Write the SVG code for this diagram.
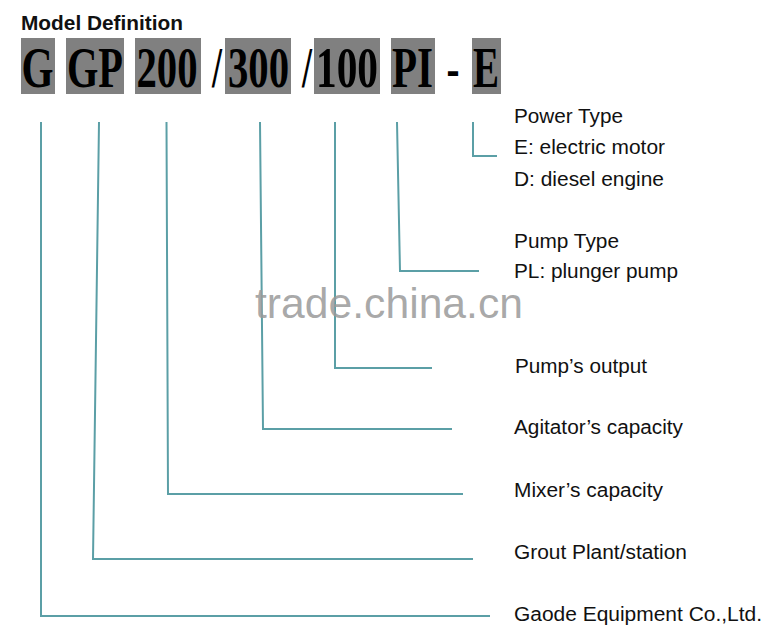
<svg xmlns="http://www.w3.org/2000/svg" width="777" height="639" viewBox="0 0 777 639">
<style>
.box{fill:#808080}
.code{font-family:"Liberation Serif","Times New Roman",serif;font-weight:bold;font-size:56px;fill:#000}
.lbl{font-family:"Liberation Sans",Arial,sans-serif;font-size:19.5px;fill:#111}
.title{font-family:"Liberation Sans",Arial,sans-serif;font-weight:bold;font-size:20px;fill:#111}
.wm{font-family:"Liberation Sans",Arial,sans-serif;font-size:42px;fill:#9a9a9a;fill-opacity:0.85}
.conn{fill:none;stroke:#5b9fa6;stroke-width:2}
</style>
<rect width="777" height="639" fill="#fff"/>
<g id="title"><text class="title" x="21" y="30" textLength="162" lengthAdjust="spacingAndGlyphs">Model Definition</text></g>
<g id="code">
<rect class="box" x="21" y="38" width="34" height="56"/>
<rect class="box" x="66" y="38" width="58" height="56"/>
<rect class="box" x="135" y="38" width="66" height="56"/>
<rect class="box" x="225" y="38" width="66" height="56"/>
<rect class="box" x="314" y="38" width="66" height="56"/>
<rect class="box" x="391" y="38" width="44" height="56"/>
<rect class="box" x="472" y="38" width="29" height="56"/>
<text class="code" x="21.5" y="87" textLength="32" lengthAdjust="spacingAndGlyphs">G</text>
<text class="code" x="67" y="87" textLength="56" lengthAdjust="spacingAndGlyphs">GP</text>
<text class="code" x="136.5" y="87" textLength="61" lengthAdjust="spacingAndGlyphs">200</text>
<text class="code" x="212" y="87" textLength="10" lengthAdjust="spacingAndGlyphs">/</text>
<text class="code" x="228" y="87" textLength="61" lengthAdjust="spacingAndGlyphs">300</text>
<text class="code" x="302" y="87" textLength="10" lengthAdjust="spacingAndGlyphs">/</text>
<text class="code" x="316" y="87" textLength="62" lengthAdjust="spacingAndGlyphs">100</text>
<text class="code" x="392" y="87" textLength="41" lengthAdjust="spacingAndGlyphs">PI</text>
<text class="code" x="446.5" y="87" textLength="13" lengthAdjust="spacingAndGlyphs">-</text>
<text class="code" x="473" y="87" textLength="26" lengthAdjust="spacingAndGlyphs">E</text>
</g>
<g id="connectors">
<polyline class="conn" points="41,122 41,616 490,616"/>
<polyline class="conn" points="99,122 93,559 473,559"/>
<polyline class="conn" points="166.5,122 168,494 463,494"/>
<polyline class="conn" points="260,122 263,429 452,429"/>
<polyline class="conn" points="335,122 335,368 432,368"/>
<polyline class="conn" points="397,122 400,271 479,271"/>
<polyline class="conn" points="473,122 473,156 497,156"/>
</g>
<g id="power-type">
<text class="lbl" x="514" y="123" textLength="109" lengthAdjust="spacingAndGlyphs">Power Type</text>
<text class="lbl" x="514" y="154" textLength="151" lengthAdjust="spacingAndGlyphs">E: electric motor</text>
<text class="lbl" x="514" y="186" textLength="150" lengthAdjust="spacingAndGlyphs">D: diesel engine</text>
</g>
<g id="pump-type">
<text class="lbl" x="514" y="248" textLength="105" lengthAdjust="spacingAndGlyphs">Pump Type</text>
<text class="lbl" x="514" y="278" textLength="164" lengthAdjust="spacingAndGlyphs">PL: plunger pump</text>
</g>
<g id="pump-output"><text class="lbl" x="515" y="373" textLength="132" lengthAdjust="spacingAndGlyphs">Pump’s output</text></g>
<g id="agitator"><text class="lbl" x="514" y="434" textLength="169" lengthAdjust="spacingAndGlyphs">Agitator’s capacity</text></g>
<g id="mixer"><text class="lbl" x="514" y="497" textLength="149" lengthAdjust="spacingAndGlyphs">Mixer’s capacity</text></g>
<g id="grout"><text class="lbl" x="514" y="559" textLength="173" lengthAdjust="spacingAndGlyphs">Grout Plant/station</text></g>
<g id="gaode"><text class="lbl" x="514" y="621" textLength="248" lengthAdjust="spacingAndGlyphs">Gaode Equipment Co.,Ltd.</text></g>
<text class="wm" x="255" y="318" textLength="268" lengthAdjust="spacingAndGlyphs">trade.china.cn</text>
</svg>
